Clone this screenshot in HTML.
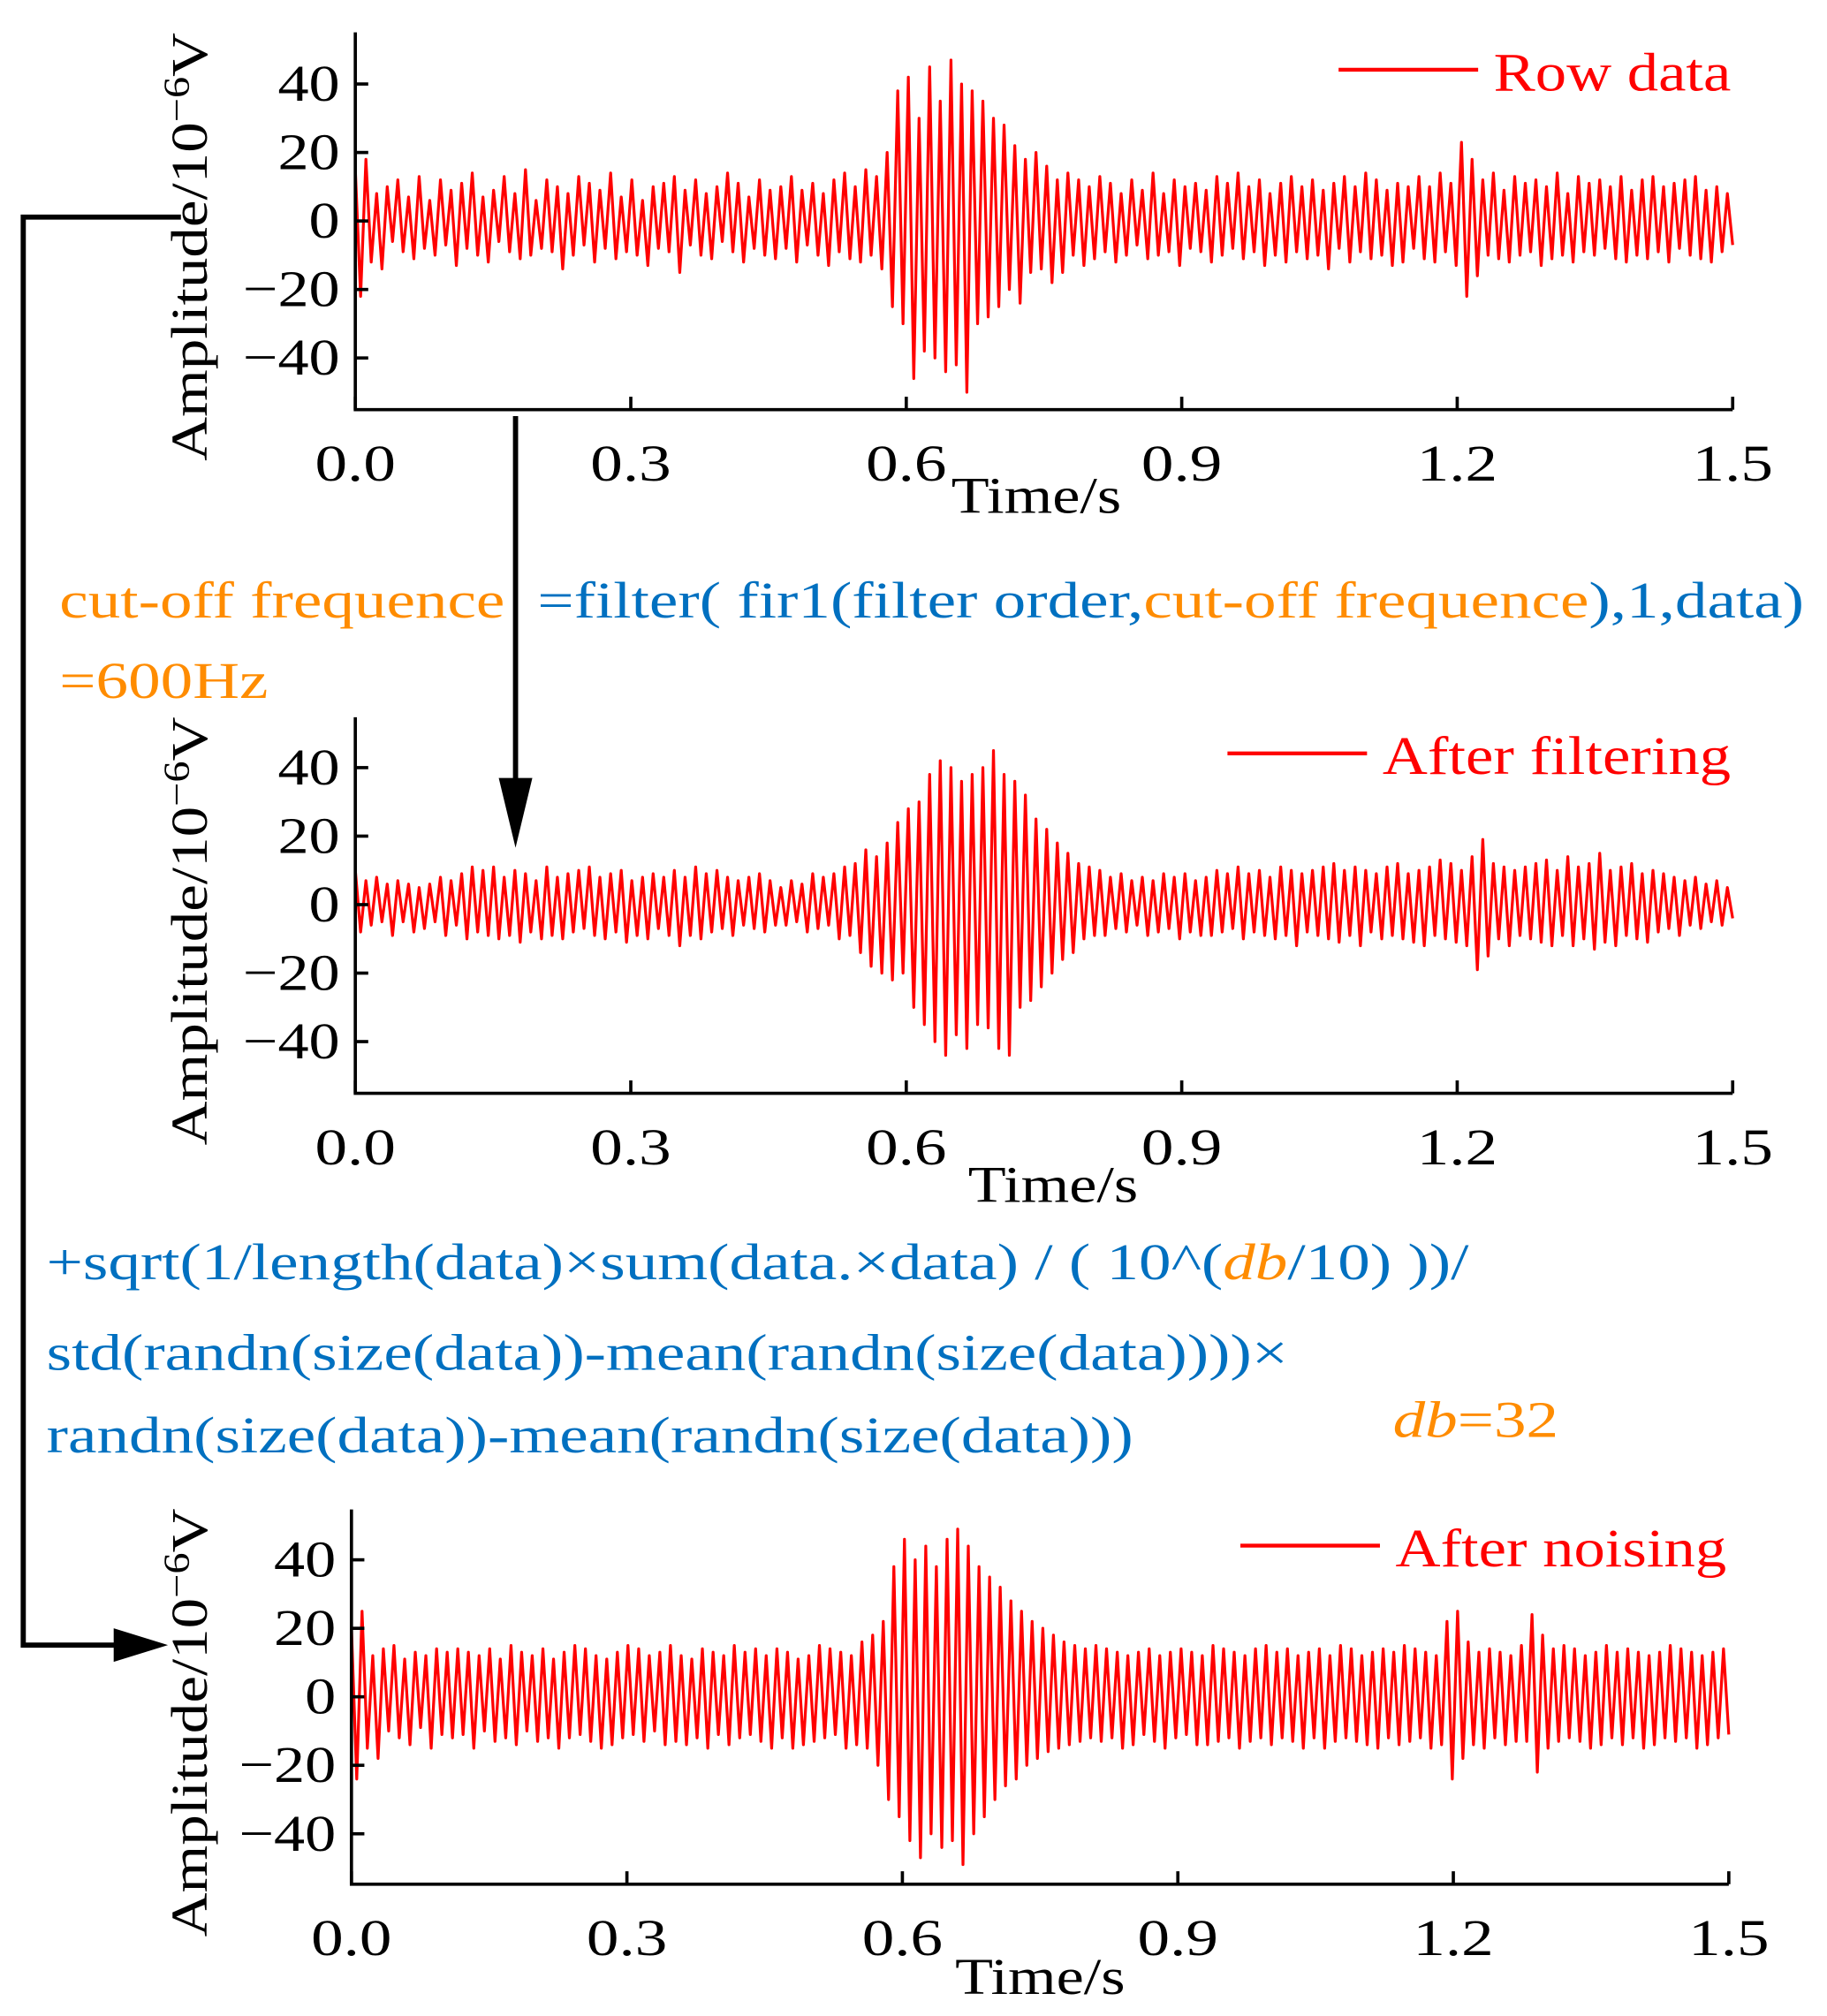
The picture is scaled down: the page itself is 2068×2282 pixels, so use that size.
<!DOCTYPE html>
<html><head><meta charset="utf-8"><style>
html,body{margin:0;padding:0;background:#fff}
svg{display:block}
text{font-family:"Liberation Serif",serif}
</style></head><body>
<svg id="fig" width="2068" height="2282" viewBox="0 0 1414 1560" preserveAspectRatio="none" xmlns="http://www.w3.org/2000/svg">
<g id="panels"></g>
<g font-size="40">
<text class="s125" x="46" y="478" fill="#ff8c00">cut-off frequence</text>
<text class="s125" x="46" y="540" fill="#ff8c00">=600Hz</text>
<text class="s125" x="416" y="478" fill="#0070c0">=filter( fir1(filter order,<tspan fill="#ff8c00">cut-off frequence</tspan>),1,data)</text>
<text class="s125" x="36" y="990" fill="#0070c0">+sqrt(1/length(data)×sum(data.×data) / ( 10^(<tspan fill="#ff8c00" font-style="italic">db</tspan>/10) ))/</text>
<text class="s125" x="36" y="1060" fill="#0070c0">std(randn(size(data))-mean(randn(size(data))))×</text>
<text class="s125" x="36" y="1124" fill="#0070c0">randn(size(data))-mean(randn(size(data)))</text>
<text class="s125" x="1078" y="1112" fill="#ff8c00"><tspan font-style="italic">db</tspan>=32</text>
</g>
<g stroke="#000" stroke-width="4" fill="none">
<polyline points="140,168 18,168 18,1273 100,1273"/>
<polygon points="88,1260 130,1273 88,1286" fill="#000" stroke="none"/>
<line x1="399" y1="322" x2="399" y2="610"/>
<polygon points="386,602 399,656 412,602" fill="#000" stroke="none"/>
</g>
</svg>
<script>
const xTicks=[0,0.3,0.6,0.9,1.2,1.5];
const xTickLabels=["0.0","0.3","0.6","0.9","1.2","1.5"];
const yTicks=[-40,-20,0,20,40];
const yTickLabels=["\u221240","\u221220","0","20","40"];
const legendLabels=["Row data","After filtering","After noising"];
const rawData=[
15,-22,18,-12,8,-14,10,-6,12,-9,7,-11,13,-8,6,-10,12,-7,9,-13,
11,-8,14,-10,7,-12,9,-6,13,-9,8,-11,15,-10,6,-8,12,-9,10,-14,
8,-10,13,-7,11,-12,9,-8,14,-11,7,-9,12,-10,6,-13,10,-8,11,-9,
13,-15,9,-7,12,-10,8,-11,10,-6,14,-9,11,-12,7,-8,12,-10,9,-11,
10,-8,13,-12,9,-7,11,-10,8,-13,12,-9,14,-11,10,-12,15,-10,13,-14,
20,-25,38,-30,42,-46,30,-38,45,-40,35,-44,47,-42,40,-50,38,-30,35,-28,
30,-25,28,-20,22,-24,18,-15,20,-14,16,-18,12,-15,14,-10,12,-13,10,-11,
13,-9,11,-12,8,-10,12,-7,9,-11,14,-10,8,-9,12,-13,10,-8,11,-9,
9,-12,13,-10,11,-8,14,-11,10,-9,12,-13,8,-10,11,-12,13,-9,10,-11,
12,-10,9,-14,11,-8,13,-12,10,-9,14,-11,12,-10,9,-13,11,-12,10,-8,
13,-11,10,-12,14,-9,11,-13,23,-22,18,-16,12,-10,14,-11,9,-12,13,-10,
11,-9,12,-13,10,-11,14,-10,8,-12,13,-9,11,-10,12,-8,10,-11,13,-12,
9,-10,12,-11,13,-9,10,-12,11,-8,12,-10,13,-11,9,-12,10,-9,8,-7];
const filteredData=[
10,-8,7,-6,8,-5,6,-9,7,-5,6,-8,5,-7,6,-5,8,-9,7,-6,
9,-10,11,-8,10,-9,11,-10,8,-9,10,-11,9,-8,7,-10,11,-9,8,-10,
9,-8,10,-7,11,-9,8,-10,9,-8,10,-11,7,-9,8,-10,9,-7,8,-9,
10,-12,8,-9,11,-10,9,-8,10,-7,8,-9,7,-6,8,-7,9,-8,7,-6,
5,-6,7,-5,6,-8,9,-7,8,-6,9,-10,11,-9,12,-14,16,-18,14,-20,
18,-22,24,-20,28,-30,30,-35,38,-40,42,-44,40,-38,36,-42,38,-35,40,-36,
45,-42,38,-44,36,-30,32,-28,25,-24,22,-20,18,-16,15,-14,12,-10,11,-9,
10,-9,8,-7,9,-8,7,-6,8,-9,7,-8,9,-7,8,-10,9,-8,7,-9,
8,-9,10,-8,9,-7,11,-10,9,-8,10,-9,8,-10,11,-9,10,-12,9,-8,
10,-9,11,-10,12,-11,10,-9,11,-12,10,-8,9,-10,11,-9,12,-10,9,-11,
10,-12,11,-9,13,-10,12,-11,10,-12,14,-19,19,-15,12,-10,11,-12,10,-9,
11,-10,12,-11,13,-12,10,-9,14,-12,11,-10,12,-13,15,-11,10,-12,11,-9,
12,-10,9,-11,10,-8,9,-7,8,-9,7,-6,8,-7,6,-5,7,-6,5,-4];
const noisedData=[
20,-24,25,-15,12,-18,14,-10,15,-12,11,-14,13,-9,12,-15,14,-11,13,-12,
14,-11,13,-15,12,-10,14,-13,11,-12,15,-14,13,-10,12,-13,14,-12,11,-15,
13,-12,15,-11,14,-13,12,-15,11,-14,13,-12,15,-11,14,-13,12,-10,13,-14,
15,-13,12,-14,11,-12,14,-15,13,-11,12,-14,15,-12,13,-11,14,-13,12,-15,
14,-12,13,-15,11,-14,12,-13,15,-12,14,-11,13,-15,12,-14,16,-15,18,-20,
22,-30,38,-35,46,-42,40,-47,44,-40,38,-44,46,-42,49,-49,44,-40,38,-35,
35,-30,32,-26,28,-24,25,-20,22,-18,20,-16,18,-15,16,-14,15,-13,14,-12,
15,-13,14,-12,13,-15,12,-14,13,-11,14,-13,12,-15,13,-12,14,-11,13,-14,
12,-14,15,-13,14,-12,13,-15,12,-13,14,-12,15,-14,13,-12,14,-13,12,-15,
13,-12,14,-15,12,-13,15,-12,14,-13,12,-14,13,-15,14,-12,13,-14,15,-13,
14,-12,13,-15,12,-14,22,-24,25,-18,16,-14,13,-15,14,-12,13,-14,12,-13,
15,-13,24,-22,18,-15,14,-13,15,-12,14,-13,12,-15,13,-14,15,-12,13,-14,
14,-12,13,-15,12,-14,13,-12,15,-13,14,-12,13,-15,12,-14,13,-12,14,-11];
const panels=[
 {data:rawData,left:275,right:1341,top:25,bottom:317,y0:171,legend:0,lx1:1036,lx2:1144,ly:54,tx:1156,titleX:802,titleY:397},
 {data:filteredData,left:275,right:1341,top:555,bottom:846,y0:700,legend:1,lx1:950,lx2:1058,ly:583,tx:1070,titleX:815,titleY:930},
 {data:noisedData,left:272,right:1338,top:1168,bottom:1458,y0:1313,legend:2,lx1:960,lx2:1068,ly:1196,tx:1080,titleX:805,titleY:1543}
];
const NS="http://www.w3.org/2000/svg";
const root=document.getElementById('panels');
function mk(tag,attrs,parent){const e=document.createElementNS(NS,tag);for(const k in attrs)e.setAttribute(k,attrs[k]);parent.appendChild(e);return e;}
function stretch(el,s){const x=+el.getAttribute('x'),y=+el.getAttribute('y');el.setAttribute('transform',`translate(${x},${y}) scale(${s},1) translate(${-x},${-y})`);}
panels.forEach((p,pi)=>{
 const g=mk('g',{},root);
 
 
 const xs=t=>p.left+(t/1.5)*(p.right-p.left);
 const ys=v=>p.y0-v*(106/40);
 const pts=p.data.map((v,i)=>xs(i/(p.data.length-1)*1.5).toFixed(1)+','+ys(v).toFixed(1)).join(' ');
 const line=mk('polyline',{points:pts,fill:'none',stroke:'#ff0000','stroke-width':2.2,'stroke-linejoin':'round'},g);
 
 
 const ax=mk('path',{d:`M${p.left},${p.top} L${p.left},${p.bottom} L${p.right},${p.bottom}`,fill:'none',stroke:'#000','stroke-width':2.5},g);
 
 
 xTicks.forEach((t,i)=>{
  const x=xs(t);
  const tk=mk('line',{x1:x,y1:p.bottom,x2:x,y2:p.bottom-10,stroke:'#000','stroke-width':2.5},g);
  
  
  const tl=mk('text',{x:x,y:p.bottom+55,'font-size':40,'text-anchor':'middle'},g);
  tl.textContent=xTickLabels[i];
  
  
  stretch(tl,1.25);
 });
 yTicks.forEach((v,i)=>{
  const y=ys(v);
  const tk=mk('line',{x1:p.left,y1:y,x2:p.left+10,y2:y,stroke:'#000','stroke-width':2.5},g);
  
  
  const tl=mk('text',{x:p.left-12,y:y+13,'font-size':40,'text-anchor':'end'},g);
  tl.textContent=yTickLabels[i];
  
  
  stretch(tl,1.2);
 });
 const xt=mk('text',{x:p.titleX,y:p.titleY,'font-size':40,'text-anchor':'middle'},g);
 xt.textContent='Time/s';
 
 
 stretch(xt,1.2);
 const cy=(p.top+p.bottom)/2+20;
 const yt=mk('text',{x:0,y:0,'font-size':40,'text-anchor':'middle',transform:`translate(160,${cy}) rotate(-90) scale(1.18,1)`},g);
 yt.innerHTML='Amplitude/10<tspan dy="-14" font-size="28">\u22126</tspan><tspan dy="14">V</tspan>';
 
 
 const lg=mk('g',{},g);
 
 
 mk('line',{x1:p.lx1,y1:p.ly,x2:p.lx2,y2:p.ly,stroke:'#ff0000','stroke-width':3},lg);
 const lt=mk('text',{x:p.tx,y:p.ly+16,'font-size':42,fill:'#ff0000'},lg);
 lt.textContent=legendLabels[p.legend];
 stretch(lt,1.15);
});
document.querySelectorAll('text.s125').forEach(t=>stretch(t,1.25));
</script>
</body></html>
